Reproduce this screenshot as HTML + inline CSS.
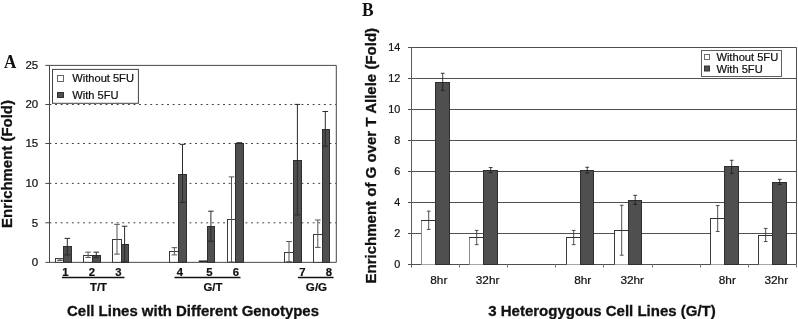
<!DOCTYPE html>
<html lang="en"><head><meta charset="utf-8"><title>Figure</title>
<style>html,body{margin:0;padding:0;background:#fff;}svg{display:block;will-change:transform;}</style>
</head><body>
<svg width="798" height="319" viewBox="0 0 798 319">
<rect x="0" y="0" width="798" height="319" fill="#fff"/>
<line x1="49.50" y1="222.80" x2="336.30" y2="222.80" stroke="#444" stroke-width="1" stroke-dasharray="1.9 3.7"/>
<line x1="49.50" y1="183.40" x2="336.30" y2="183.40" stroke="#444" stroke-width="1" stroke-dasharray="1.9 3.7"/>
<line x1="49.50" y1="143.50" x2="336.30" y2="143.50" stroke="#444" stroke-width="1" stroke-dasharray="1.9 3.7"/>
<line x1="49.50" y1="104.50" x2="336.30" y2="104.50" stroke="#444" stroke-width="1" stroke-dasharray="1.9 3.7"/>
<line x1="45.30" y1="65.40" x2="336.30" y2="65.40" stroke="#484848" stroke-width="1" />
<line x1="336.30" y1="65.40" x2="336.30" y2="262.35" stroke="#484848" stroke-width="1" />
<line x1="49.50" y1="65.40" x2="49.50" y2="262.35" stroke="#484848" stroke-width="1" />
<line x1="45.30" y1="262.35" x2="336.30" y2="262.35" stroke="#484848" stroke-width="1" />
<line x1="45.30" y1="222.80" x2="49.50" y2="222.80" stroke="#484848" stroke-width="1" />
<line x1="45.30" y1="183.40" x2="49.50" y2="183.40" stroke="#484848" stroke-width="1" />
<line x1="45.30" y1="143.50" x2="49.50" y2="143.50" stroke="#484848" stroke-width="1" />
<line x1="45.30" y1="104.50" x2="49.50" y2="104.50" stroke="#484848" stroke-width="1" />
<text x="38.20" y="266.25" font-size="11.5" font-weight="normal" text-anchor="end" font-family="Liberation Sans, Arial, Helvetica, sans-serif" fill="#111"  stroke="#111" stroke-width="0.22">0</text>
<text x="38.20" y="226.70" font-size="11.5" font-weight="normal" text-anchor="end" font-family="Liberation Sans, Arial, Helvetica, sans-serif" fill="#111"  stroke="#111" stroke-width="0.22">5</text>
<text x="38.20" y="187.30" font-size="11.5" font-weight="normal" text-anchor="end" font-family="Liberation Sans, Arial, Helvetica, sans-serif" fill="#111"  stroke="#111" stroke-width="0.22">10</text>
<text x="38.20" y="147.40" font-size="11.5" font-weight="normal" text-anchor="end" font-family="Liberation Sans, Arial, Helvetica, sans-serif" fill="#111"  stroke="#111" stroke-width="0.22">15</text>
<text x="38.20" y="108.40" font-size="11.5" font-weight="normal" text-anchor="end" font-family="Liberation Sans, Arial, Helvetica, sans-serif" fill="#111"  stroke="#111" stroke-width="0.22">20</text>
<text x="38.20" y="69.30" font-size="11.5" font-weight="normal" text-anchor="end" font-family="Liberation Sans, Arial, Helvetica, sans-serif" fill="#111"  stroke="#111" stroke-width="0.22">25</text>
<rect x="55.50" y="258.50" width="8.00" height="3.85" fill="#fff" stroke="#3a3a3a" stroke-width="1"/>
<rect x="63.50" y="246.50" width="8.00" height="15.85" fill="#4f4f4f" stroke="#2e2e2e" stroke-width="1"/>
<line x1="60.00" y1="260.42" x2="60.00" y2="258.85" stroke="#555" stroke-width="1" />
<line x1="57.20" y1="258.85" x2="62.80" y2="258.85" stroke="#555" stroke-width="1" />
<line x1="57.20" y1="260.42" x2="62.80" y2="260.42" stroke="#555" stroke-width="1" />
<line x1="67.30" y1="254.91" x2="67.30" y2="238.36" stroke="#2a2a2a" stroke-width="1" />
<line x1="64.50" y1="238.36" x2="70.10" y2="238.36" stroke="#2a2a2a" stroke-width="1" />
<line x1="64.50" y1="254.91" x2="70.10" y2="254.91" stroke="#2a2a2a" stroke-width="1" />
<rect x="83.50" y="255.50" width="9.00" height="6.85" fill="#fff" stroke="#3a3a3a" stroke-width="1"/>
<rect x="92.50" y="255.50" width="8.00" height="6.85" fill="#4f4f4f" stroke="#2e2e2e" stroke-width="1"/>
<line x1="88.10" y1="257.43" x2="88.10" y2="252.15" stroke="#555" stroke-width="1" />
<line x1="85.30" y1="252.15" x2="90.90" y2="252.15" stroke="#555" stroke-width="1" />
<line x1="85.30" y1="257.43" x2="90.90" y2="257.43" stroke="#555" stroke-width="1" />
<line x1="96.30" y1="257.27" x2="96.30" y2="252.15" stroke="#2a2a2a" stroke-width="1" />
<line x1="93.50" y1="252.15" x2="99.10" y2="252.15" stroke="#2a2a2a" stroke-width="1" />
<line x1="93.50" y1="257.27" x2="99.10" y2="257.27" stroke="#2a2a2a" stroke-width="1" />
<rect x="112.50" y="239.50" width="9.00" height="22.85" fill="#fff" stroke="#3a3a3a" stroke-width="1"/>
<rect x="121.50" y="244.50" width="7.00" height="17.85" fill="#4f4f4f" stroke="#2e2e2e" stroke-width="1"/>
<line x1="117.00" y1="254.12" x2="117.00" y2="224.33" stroke="#555" stroke-width="1" />
<line x1="114.20" y1="224.33" x2="119.80" y2="224.33" stroke="#555" stroke-width="1" />
<line x1="114.20" y1="254.12" x2="119.80" y2="254.12" stroke="#555" stroke-width="1" />
<line x1="124.60" y1="262.00" x2="124.60" y2="226.22" stroke="#2a2a2a" stroke-width="1" />
<line x1="121.80" y1="226.22" x2="127.40" y2="226.22" stroke="#2a2a2a" stroke-width="1" />
<line x1="121.80" y1="262.00" x2="127.40" y2="262.00" stroke="#2a2a2a" stroke-width="1" />
<rect x="169.50" y="251.50" width="9.00" height="10.85" fill="#fff" stroke="#3a3a3a" stroke-width="1"/>
<rect x="178.50" y="174.50" width="8.00" height="87.85" fill="#4f4f4f" stroke="#2e2e2e" stroke-width="1"/>
<line x1="174.40" y1="254.91" x2="174.40" y2="247.66" stroke="#555" stroke-width="1" />
<line x1="171.60" y1="247.66" x2="177.20" y2="247.66" stroke="#555" stroke-width="1" />
<line x1="171.60" y1="254.91" x2="177.20" y2="254.91" stroke="#555" stroke-width="1" />
<line x1="182.50" y1="202.51" x2="182.50" y2="144.35" stroke="#2a2a2a" stroke-width="1" />
<line x1="179.70" y1="144.35" x2="185.30" y2="144.35" stroke="#2a2a2a" stroke-width="1" />
<line x1="179.70" y1="202.51" x2="185.30" y2="202.51" stroke="#2a2a2a" stroke-width="1" />
<line x1="198.80" y1="261.20" x2="207.10" y2="261.20" stroke="#111" stroke-width="1.4" />
<rect x="207.50" y="226.50" width="7.00" height="35.85" fill="#4f4f4f" stroke="#2e2e2e" stroke-width="1"/>
<line x1="210.90" y1="241.28" x2="210.90" y2="211.17" stroke="#2a2a2a" stroke-width="1" />
<line x1="208.10" y1="211.17" x2="213.70" y2="211.17" stroke="#2a2a2a" stroke-width="1" />
<line x1="208.10" y1="241.28" x2="213.70" y2="241.28" stroke="#2a2a2a" stroke-width="1" />
<rect x="227.50" y="219.50" width="8.00" height="42.85" fill="#fff" stroke="#3a3a3a" stroke-width="1"/>
<rect x="235.50" y="143.50" width="8.00" height="118.85" fill="#4f4f4f" stroke="#2e2e2e" stroke-width="1"/>
<line x1="231.50" y1="262.00" x2="231.50" y2="176.90" stroke="#555" stroke-width="1" />
<line x1="228.70" y1="176.90" x2="234.30" y2="176.90" stroke="#555" stroke-width="1" />
<line x1="228.70" y1="262.00" x2="234.30" y2="262.00" stroke="#555" stroke-width="1" />
<line x1="239.40" y1="142.93" x2="239.40" y2="142.93" stroke="#2a2a2a" stroke-width="1" />
<line x1="236.60" y1="142.93" x2="242.20" y2="142.93" stroke="#2a2a2a" stroke-width="1" />
<line x1="236.60" y1="142.93" x2="242.20" y2="142.93" stroke="#2a2a2a" stroke-width="1" />
<rect x="284.50" y="252.50" width="9.00" height="9.85" fill="#fff" stroke="#3a3a3a" stroke-width="1"/>
<rect x="293.50" y="160.50" width="8.00" height="101.85" fill="#4f4f4f" stroke="#2e2e2e" stroke-width="1"/>
<line x1="289.00" y1="261.61" x2="289.00" y2="241.51" stroke="#555" stroke-width="1" />
<line x1="286.20" y1="241.51" x2="291.80" y2="241.51" stroke="#555" stroke-width="1" />
<line x1="286.20" y1="261.61" x2="291.80" y2="261.61" stroke="#555" stroke-width="1" />
<line x1="297.40" y1="214.96" x2="297.40" y2="104.40" stroke="#2a2a2a" stroke-width="1" />
<line x1="294.60" y1="104.40" x2="300.20" y2="104.40" stroke="#2a2a2a" stroke-width="1" />
<line x1="294.60" y1="214.96" x2="300.20" y2="214.96" stroke="#2a2a2a" stroke-width="1" />
<rect x="313.50" y="234.50" width="9.00" height="27.85" fill="#fff" stroke="#3a3a3a" stroke-width="1"/>
<rect x="322.50" y="129.50" width="7.00" height="132.85" fill="#4f4f4f" stroke="#2e2e2e" stroke-width="1"/>
<line x1="317.80" y1="247.42" x2="317.80" y2="220.00" stroke="#555" stroke-width="1" />
<line x1="315.00" y1="220.00" x2="320.60" y2="220.00" stroke="#555" stroke-width="1" />
<line x1="315.00" y1="247.42" x2="320.60" y2="247.42" stroke="#555" stroke-width="1" />
<line x1="325.30" y1="146.16" x2="325.30" y2="111.49" stroke="#2a2a2a" stroke-width="1" />
<line x1="322.50" y1="111.49" x2="328.10" y2="111.49" stroke="#2a2a2a" stroke-width="1" />
<line x1="322.50" y1="146.16" x2="328.10" y2="146.16" stroke="#2a2a2a" stroke-width="1" />
<rect x="52.50" y="69.40" width="85.90" height="33.90" fill="#fff" stroke="#444" stroke-width="1"/>
<rect x="57.50" y="75.50" width="6.00" height="6.00" fill="#fff" stroke="#666" stroke-width="1"/>
<rect x="57.50" y="92.50" width="6.00" height="5.00" fill="#4f4f4f" stroke="#333" stroke-width="1"/>
<text x="72.30" y="82.20" font-size="11" font-weight="normal" text-anchor="start" font-family="Liberation Sans, Arial, Helvetica, sans-serif" fill="#111" textLength="61.6" lengthAdjust="spacingAndGlyphs" stroke="#111" stroke-width="0.22">Without 5FU</text>
<text x="72.30" y="98.80" font-size="11" font-weight="normal" text-anchor="start" font-family="Liberation Sans, Arial, Helvetica, sans-serif" fill="#111" textLength="46.3" lengthAdjust="spacingAndGlyphs" stroke="#111" stroke-width="0.22">With 5FU</text>
<text x="65.30" y="275.60" font-size="11.3" font-weight="bold" text-anchor="middle" font-family="Liberation Sans, Arial, Helvetica, sans-serif" fill="#111"  stroke="#111" stroke-width="0.22">1</text>
<text x="92.00" y="275.60" font-size="11.3" font-weight="bold" text-anchor="middle" font-family="Liberation Sans, Arial, Helvetica, sans-serif" fill="#111"  stroke="#111" stroke-width="0.22">2</text>
<text x="118.30" y="275.60" font-size="11.3" font-weight="bold" text-anchor="middle" font-family="Liberation Sans, Arial, Helvetica, sans-serif" fill="#111"  stroke="#111" stroke-width="0.22">3</text>
<text x="180.00" y="275.60" font-size="11.3" font-weight="bold" text-anchor="middle" font-family="Liberation Sans, Arial, Helvetica, sans-serif" fill="#111"  stroke="#111" stroke-width="0.22">4</text>
<text x="209.50" y="275.60" font-size="11.3" font-weight="bold" text-anchor="middle" font-family="Liberation Sans, Arial, Helvetica, sans-serif" fill="#111"  stroke="#111" stroke-width="0.22">5</text>
<text x="235.80" y="275.60" font-size="11.3" font-weight="bold" text-anchor="middle" font-family="Liberation Sans, Arial, Helvetica, sans-serif" fill="#111"  stroke="#111" stroke-width="0.22">6</text>
<text x="302.50" y="275.60" font-size="11.3" font-weight="bold" text-anchor="middle" font-family="Liberation Sans, Arial, Helvetica, sans-serif" fill="#111"  stroke="#111" stroke-width="0.22">7</text>
<text x="329.00" y="275.60" font-size="11.3" font-weight="bold" text-anchor="middle" font-family="Liberation Sans, Arial, Helvetica, sans-serif" fill="#111"  stroke="#111" stroke-width="0.22">8</text>
<line x1="62.00" y1="277.60" x2="124.50" y2="277.60" stroke="#111" stroke-width="1.5" />
<line x1="174.50" y1="277.60" x2="240.50" y2="277.60" stroke="#111" stroke-width="1.5" />
<line x1="298.00" y1="277.60" x2="333.50" y2="277.60" stroke="#111" stroke-width="1.5" />
<text x="98.50" y="291.20" font-size="11.4" font-weight="bold" text-anchor="middle" font-family="Liberation Sans, Arial, Helvetica, sans-serif" fill="#111"  stroke="#111" stroke-width="0.22">T/T</text>
<text x="213.00" y="291.20" font-size="11.4" font-weight="bold" text-anchor="middle" font-family="Liberation Sans, Arial, Helvetica, sans-serif" fill="#111"  stroke="#111" stroke-width="0.22">G/T</text>
<text x="316.50" y="291.20" font-size="11.6" font-weight="bold" text-anchor="middle" font-family="Liberation Sans, Arial, Helvetica, sans-serif" fill="#111"  stroke="#111" stroke-width="0.22">G/G</text>
<text x="67.00" y="316.10" font-size="14.9" font-weight="bold" text-anchor="start" font-family="Liberation Sans, Arial, Helvetica, sans-serif" fill="#111" textLength="252" lengthAdjust="spacingAndGlyphs" stroke="#111" stroke-width="0.3">Cell Lines with Different Genotypes</text>
<text transform="translate(12.1,227.9) rotate(-90)" font-size="14.9" font-weight="bold" font-family="Liberation Sans, Arial, Helvetica, sans-serif" fill="#111" stroke="#111" stroke-width="0.3" textLength="127.8" lengthAdjust="spacingAndGlyphs">Enrichment (Fold)</text>
<text x="4.00" y="67.90" font-size="19.6" font-weight="bold" text-anchor="start" font-family="Liberation Serif, Times New Roman, serif" fill="#111" textLength="12.3" lengthAdjust="spacingAndGlyphs">A</text>
<line x1="408.00" y1="233.50" x2="796.50" y2="233.50" stroke="#505050" stroke-width="1" />
<line x1="408.00" y1="202.50" x2="796.50" y2="202.50" stroke="#505050" stroke-width="1" />
<line x1="408.00" y1="171.50" x2="796.50" y2="171.50" stroke="#505050" stroke-width="1" />
<line x1="408.00" y1="140.50" x2="796.50" y2="140.50" stroke="#505050" stroke-width="1" />
<line x1="408.00" y1="109.50" x2="796.50" y2="109.50" stroke="#505050" stroke-width="1" />
<line x1="408.00" y1="78.50" x2="796.50" y2="78.50" stroke="#505050" stroke-width="1" />
<line x1="408.00" y1="47.50" x2="796.50" y2="47.50" stroke="#505050" stroke-width="1" />
<line x1="796.50" y1="47.50" x2="796.50" y2="264.50" stroke="#505050" stroke-width="1" />
<line x1="411.50" y1="47.50" x2="411.50" y2="267.50" stroke="#5c5c5c" stroke-width="1" />
<line x1="408.00" y1="264.50" x2="796.50" y2="264.50" stroke="#505050" stroke-width="1" />
<line x1="459.50" y1="264.50" x2="459.50" y2="267.50" stroke="#777" stroke-width="1" />
<line x1="507.50" y1="264.50" x2="507.50" y2="267.50" stroke="#777" stroke-width="1" />
<line x1="555.50" y1="264.50" x2="555.50" y2="267.50" stroke="#777" stroke-width="1" />
<line x1="603.50" y1="264.50" x2="603.50" y2="267.50" stroke="#777" stroke-width="1" />
<line x1="652.50" y1="264.50" x2="652.50" y2="267.50" stroke="#777" stroke-width="1" />
<line x1="700.50" y1="264.50" x2="700.50" y2="267.50" stroke="#777" stroke-width="1" />
<line x1="748.50" y1="264.50" x2="748.50" y2="267.50" stroke="#777" stroke-width="1" />
<line x1="796.50" y1="264.50" x2="796.50" y2="267.50" stroke="#777" stroke-width="1" />
<text x="400.20" y="268.40" font-size="10.8" font-weight="normal" text-anchor="end" font-family="Liberation Sans, Arial, Helvetica, sans-serif" fill="#111"  stroke="#111" stroke-width="0.22">0</text>
<text x="400.20" y="237.40" font-size="10.8" font-weight="normal" text-anchor="end" font-family="Liberation Sans, Arial, Helvetica, sans-serif" fill="#111"  stroke="#111" stroke-width="0.22">2</text>
<text x="400.20" y="206.40" font-size="10.8" font-weight="normal" text-anchor="end" font-family="Liberation Sans, Arial, Helvetica, sans-serif" fill="#111"  stroke="#111" stroke-width="0.22">4</text>
<text x="400.20" y="175.40" font-size="10.8" font-weight="normal" text-anchor="end" font-family="Liberation Sans, Arial, Helvetica, sans-serif" fill="#111"  stroke="#111" stroke-width="0.22">6</text>
<text x="400.20" y="144.40" font-size="10.8" font-weight="normal" text-anchor="end" font-family="Liberation Sans, Arial, Helvetica, sans-serif" fill="#111"  stroke="#111" stroke-width="0.22">8</text>
<text x="400.20" y="113.40" font-size="10.8" font-weight="normal" text-anchor="end" font-family="Liberation Sans, Arial, Helvetica, sans-serif" fill="#111"  stroke="#111" stroke-width="0.22">10</text>
<text x="400.20" y="82.40" font-size="10.8" font-weight="normal" text-anchor="end" font-family="Liberation Sans, Arial, Helvetica, sans-serif" fill="#111"  stroke="#111" stroke-width="0.22">12</text>
<text x="400.20" y="51.40" font-size="10.8" font-weight="normal" text-anchor="end" font-family="Liberation Sans, Arial, Helvetica, sans-serif" fill="#111"  stroke="#111" stroke-width="0.22">14</text>
<rect x="421.5" y="220.5" width="14.0" height="44.0" fill="#fff"/>
<line x1="421.50" y1="220.00" x2="421.50" y2="264.50" stroke="#8c8c8c" stroke-width="1" />
<line x1="421.00" y1="220.50" x2="435.50" y2="220.50" stroke="#333" stroke-width="1" />
<rect x="435.50" y="82.50" width="14.00" height="182.00" fill="#4f4f4f" stroke="#2e2e2e" stroke-width="1"/>
<line x1="428.70" y1="229.45" x2="428.70" y2="211.15" stroke="#333" stroke-width="0.85" />
<line x1="426.80" y1="211.15" x2="430.60" y2="211.15" stroke="#333" stroke-width="0.85" />
<line x1="426.80" y1="229.45" x2="430.60" y2="229.45" stroke="#333" stroke-width="0.85" />
<line x1="442.70" y1="90.32" x2="442.70" y2="73.26" stroke="#1e1e1e" stroke-width="0.85" />
<line x1="440.80" y1="73.26" x2="444.60" y2="73.26" stroke="#1e1e1e" stroke-width="0.85" />
<line x1="440.80" y1="90.32" x2="444.60" y2="90.32" stroke="#1e1e1e" stroke-width="0.85" />
<rect x="469.5" y="237.5" width="14.0" height="27.0" fill="#fff"/>
<line x1="469.50" y1="237.00" x2="469.50" y2="264.50" stroke="#8c8c8c" stroke-width="1" />
<line x1="469.00" y1="237.50" x2="483.50" y2="237.50" stroke="#333" stroke-width="1" />
<rect x="483.50" y="170.50" width="14.00" height="94.00" fill="#4f4f4f" stroke="#2e2e2e" stroke-width="1"/>
<line x1="476.70" y1="244.65" x2="476.70" y2="230.38" stroke="#333" stroke-width="0.85" />
<line x1="474.80" y1="230.38" x2="478.60" y2="230.38" stroke="#333" stroke-width="0.85" />
<line x1="474.80" y1="244.65" x2="478.60" y2="244.65" stroke="#333" stroke-width="0.85" />
<line x1="490.70" y1="172.68" x2="490.70" y2="167.56" stroke="#1e1e1e" stroke-width="0.85" />
<line x1="488.80" y1="167.56" x2="492.60" y2="167.56" stroke="#1e1e1e" stroke-width="0.85" />
<line x1="488.80" y1="172.68" x2="492.60" y2="172.68" stroke="#1e1e1e" stroke-width="0.85" />
<rect x="566.5" y="237.5" width="14.0" height="27.0" fill="#fff"/>
<line x1="566.50" y1="237.00" x2="566.50" y2="264.50" stroke="#3c3c3c" stroke-width="1" />
<line x1="566.00" y1="237.50" x2="580.50" y2="237.50" stroke="#333" stroke-width="1" />
<rect x="580.50" y="170.50" width="13.00" height="94.00" fill="#4f4f4f" stroke="#2e2e2e" stroke-width="1"/>
<line x1="573.70" y1="244.65" x2="573.70" y2="230.38" stroke="#333" stroke-width="0.85" />
<line x1="571.80" y1="230.38" x2="575.60" y2="230.38" stroke="#333" stroke-width="0.85" />
<line x1="571.80" y1="244.65" x2="575.60" y2="244.65" stroke="#333" stroke-width="0.85" />
<line x1="587.20" y1="172.99" x2="587.20" y2="167.25" stroke="#1e1e1e" stroke-width="0.85" />
<line x1="585.30" y1="167.25" x2="589.10" y2="167.25" stroke="#1e1e1e" stroke-width="0.85" />
<line x1="585.30" y1="172.99" x2="589.10" y2="172.99" stroke="#1e1e1e" stroke-width="0.85" />
<rect x="614.5" y="230.5" width="14.0" height="34.0" fill="#fff"/>
<line x1="614.50" y1="230.00" x2="614.50" y2="264.50" stroke="#3c3c3c" stroke-width="1" />
<line x1="614.00" y1="230.50" x2="628.50" y2="230.50" stroke="#333" stroke-width="1" />
<rect x="628.50" y="200.50" width="13.00" height="64.00" fill="#4f4f4f" stroke="#2e2e2e" stroke-width="1"/>
<line x1="621.70" y1="255.19" x2="621.70" y2="205.25" stroke="#333" stroke-width="0.85" />
<line x1="619.80" y1="205.25" x2="623.60" y2="205.25" stroke="#333" stroke-width="0.85" />
<line x1="619.80" y1="255.19" x2="623.60" y2="255.19" stroke="#333" stroke-width="0.85" />
<line x1="635.20" y1="204.48" x2="635.20" y2="195.33" stroke="#1e1e1e" stroke-width="0.85" />
<line x1="633.30" y1="195.33" x2="637.10" y2="195.33" stroke="#1e1e1e" stroke-width="0.85" />
<line x1="633.30" y1="204.48" x2="637.10" y2="204.48" stroke="#1e1e1e" stroke-width="0.85" />
<rect x="710.5" y="218.5" width="14.0" height="46.0" fill="#fff"/>
<line x1="710.50" y1="218.00" x2="710.50" y2="264.50" stroke="#3c3c3c" stroke-width="1" />
<line x1="710.00" y1="218.50" x2="724.50" y2="218.50" stroke="#333" stroke-width="1" />
<rect x="724.50" y="166.50" width="14.00" height="98.00" fill="#4f4f4f" stroke="#2e2e2e" stroke-width="1"/>
<line x1="717.70" y1="231.46" x2="717.70" y2="205.56" stroke="#333" stroke-width="0.85" />
<line x1="715.80" y1="205.56" x2="719.60" y2="205.56" stroke="#333" stroke-width="0.85" />
<line x1="715.80" y1="231.46" x2="719.60" y2="231.46" stroke="#333" stroke-width="0.85" />
<line x1="731.70" y1="173.46" x2="731.70" y2="160.27" stroke="#1e1e1e" stroke-width="0.85" />
<line x1="729.80" y1="160.27" x2="733.60" y2="160.27" stroke="#1e1e1e" stroke-width="0.85" />
<line x1="729.80" y1="173.46" x2="733.60" y2="173.46" stroke="#1e1e1e" stroke-width="0.85" />
<rect x="758.5" y="235.5" width="14.0" height="29.0" fill="#fff"/>
<line x1="758.50" y1="235.00" x2="758.50" y2="264.50" stroke="#3c3c3c" stroke-width="1" />
<line x1="758.00" y1="235.50" x2="772.50" y2="235.50" stroke="#333" stroke-width="1" />
<rect x="772.50" y="182.50" width="14.00" height="82.00" fill="#4f4f4f" stroke="#2e2e2e" stroke-width="1"/>
<line x1="765.70" y1="241.55" x2="765.70" y2="228.36" stroke="#333" stroke-width="0.85" />
<line x1="763.80" y1="228.36" x2="767.60" y2="228.36" stroke="#333" stroke-width="0.85" />
<line x1="763.80" y1="241.55" x2="767.60" y2="241.55" stroke="#333" stroke-width="0.85" />
<line x1="779.70" y1="184.47" x2="779.70" y2="179.35" stroke="#1e1e1e" stroke-width="0.85" />
<line x1="777.80" y1="179.35" x2="781.60" y2="179.35" stroke="#1e1e1e" stroke-width="0.85" />
<line x1="777.80" y1="184.47" x2="781.60" y2="184.47" stroke="#1e1e1e" stroke-width="0.85" />
<rect x="701.50" y="50.50" width="80.00" height="26.00" fill="#fff" stroke="#606060" stroke-width="1"/>
<rect x="704.50" y="54.50" width="5.00" height="5.00" fill="#fff" stroke="#707070" stroke-width="1"/>
<rect x="704.50" y="66.00" width="5.00" height="5.00" fill="#4f4f4f" stroke="#333" stroke-width="1"/>
<text x="716.40" y="61.20" font-size="11" font-weight="normal" text-anchor="start" font-family="Liberation Sans, Arial, Helvetica, sans-serif" fill="#111" textLength="61.8" lengthAdjust="spacingAndGlyphs" stroke="#111" stroke-width="0.22">Without 5FU</text>
<text x="716.40" y="72.70" font-size="11" font-weight="normal" text-anchor="start" font-family="Liberation Sans, Arial, Helvetica, sans-serif" fill="#111" textLength="46.3" lengthAdjust="spacingAndGlyphs" stroke="#111" stroke-width="0.22">With 5FU</text>
<text x="430.30" y="284.40" font-size="11.8" font-weight="normal" text-anchor="start" font-family="Liberation Sans, Arial, Helvetica, sans-serif" fill="#111"  stroke="#111" stroke-width="0.22">8hr</text>
<text x="475.80" y="284.40" font-size="11.8" font-weight="normal" text-anchor="start" font-family="Liberation Sans, Arial, Helvetica, sans-serif" fill="#111"  stroke="#111" stroke-width="0.22">32hr</text>
<text x="574.20" y="284.40" font-size="11.8" font-weight="normal" text-anchor="start" font-family="Liberation Sans, Arial, Helvetica, sans-serif" fill="#111"  stroke="#111" stroke-width="0.22">8hr</text>
<text x="620.40" y="284.40" font-size="11.8" font-weight="normal" text-anchor="start" font-family="Liberation Sans, Arial, Helvetica, sans-serif" fill="#111"  stroke="#111" stroke-width="0.22">32hr</text>
<text x="718.80" y="284.40" font-size="11.8" font-weight="normal" text-anchor="start" font-family="Liberation Sans, Arial, Helvetica, sans-serif" fill="#111"  stroke="#111" stroke-width="0.22">8hr</text>
<text x="764.50" y="284.40" font-size="11.8" font-weight="normal" text-anchor="start" font-family="Liberation Sans, Arial, Helvetica, sans-serif" fill="#111"  stroke="#111" stroke-width="0.22">32hr</text>
<text x="488.20" y="315.80" font-size="14.9" font-weight="bold" text-anchor="start" font-family="Liberation Sans, Arial, Helvetica, sans-serif" fill="#111" textLength="227.6" lengthAdjust="spacingAndGlyphs" stroke="#111" stroke-width="0.3">3 Heterogygous Cell Lines (G/T)</text>
<text transform="translate(375.8,283.5) rotate(-90)" font-size="14.9" font-weight="bold" font-family="Liberation Sans, Arial, Helvetica, sans-serif" fill="#111" stroke="#111" stroke-width="0.3" textLength="255.6" lengthAdjust="spacingAndGlyphs">Enrichment of G over T Allele (Fold)</text>
<text x="362.00" y="16.10" font-size="19.0" font-weight="bold" text-anchor="start" font-family="Liberation Serif, Times New Roman, serif" fill="#111" textLength="11.6" lengthAdjust="spacingAndGlyphs">B</text>
</svg>
</body></html>
